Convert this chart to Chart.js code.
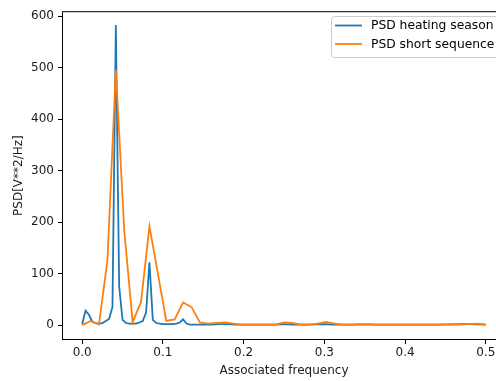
<!DOCTYPE html>
<html>
<head>
<meta charset="utf-8">
<script src="https://cdn.jsdelivr.net/npm/chart.js@4/dist/chart.umd.min.js"></script>
<style>
  html, body { margin: 0; padding: 0; background: #fff; overflow: hidden; }
  #wrap { width: 510px; height: 381px; }
</style>
</head>
<body>
<div id="wrap"><canvas id="psdCanvas" width="510" height="381"></canvas></div>
<script>
  // frequencies / PSD values
  var freqHeating = [0, 0.0042, 0.0083, 0.0125, 0.0167, 0.0208, 0.025, 0.0292, 0.0333, 0.0375,
    0.0417, 0.0458, 0.05, 0.0542, 0.0583, 0.0625, 0.0667, 0.0708, 0.075, 0.0792,
    0.0833, 0.0875, 0.0917, 0.0958, 0.1, 0.1042, 0.1083, 0.1125, 0.1167, 0.1208,
    0.125, 0.1292, 0.1333, 0.14, 0.15, 0.16, 0.17, 0.18, 0.19, 0.2,
    0.22, 0.24, 0.25, 0.26, 0.28, 0.3, 0.31, 0.33, 0.36, 0.4,
    0.44, 0.47, 0.48, 0.5];
  var psdHeating = [2, 28, 20, 7, 4, 3, 4, 8, 12, 35,
    583, 75, 10, 4, 3, 3, 3, 5, 8, 25,
    122, 10, 4, 3, 2, 2, 2, 2, 3, 5,
    11, 3, 1, 1, 1, 1, 2, 2, 1, 1,
    1, 1, 2, 1, 1, 2, 1, 1, 1, 1,
    1, 2, 2, 1];

  var freqShort = [0, 0.0104, 0.0208, 0.0313, 0.0417, 0.0521, 0.0625, 0.0729, 0.0833, 0.0938,
    0.1042, 0.1146, 0.125, 0.1354, 0.1458, 0.1563, 0.1667, 0.1771, 0.1875, 0.1979,
    0.2083, 0.2188, 0.2292, 0.2396, 0.25, 0.2604, 0.2708, 0.2813, 0.2917, 0.3021,
    0.3125, 0.3229, 0.3333, 0.3438, 0.3542, 0.3646, 0.375, 0.3854, 0.3958, 0.4063,
    0.4167, 0.4271, 0.4375, 0.4479, 0.4583, 0.4688, 0.4792, 0.4896, 0.5];
  var psdShort = [0, 8, 1, 126, 496, 184, 6, 45, 192, 100,
    8, 11, 44, 35, 5, 3, 4, 5, 3, 1,
    1, 1, 1, 1, 5, 4, 1, 1, 3, 6,
    3, 1, 1, 2, 2, 1, 1, 1, 1, 1,
    1, 1, 1, 1, 1, 1, 2, 3, 1];

  var seriesLabels = ["PSD heating season", "PSD short sequence"];
  var xTicks = [0, 0.1, 0.2, 0.3, 0.4, 0.5];
  var yTicks = [0, 100, 200, 300, 400, 500, 600];

  function pts(xs, ys) {
    var out = [];
    for (var i = 0; i < xs.length; i++) out.push({x: xs[i], y: ys[i]});
    return out;
  }

  var font = "'DejaVu Sans', sans-serif";

  // frame around plot area + legend box like matplotlib
  var framePlugin = {
    id: 'frame',
    afterDraw: function (chart) {
      var c = chart.ctx, a = chart.chartArea;
      c.save();
      c.strokeStyle = '#000';
      c.lineWidth = 1;
      c.strokeRect(a.left + 0.5, a.top + 0.5, a.right - a.left - 1, a.bottom - a.top - 1);

      // legend
      var bx = 331, by = 16, bw = 170, bh = 41;
      c.fillStyle = 'rgba(255,255,255,0.8)';
      c.strokeStyle = '#cccccc';
      c.beginPath();
      c.roundRect(bx + 0.5, by + 0.5, bw, bh, 3);
      c.fill();
      c.stroke();
      c.font = '12.3px ' + font;
      c.textBaseline = 'middle';
      chart.data.datasets.forEach(function (ds, i) {
        var ly = 25.5 + i * 18.5;
        c.strokeStyle = ds.borderColor;
        c.lineWidth = 1.8;
        c.beginPath();
        c.moveTo(335, ly);
        c.lineTo(362, ly);
        c.stroke();
        c.fillStyle = '#000';
        c.fillText(ds.label, 371, ly + 0.5);
      });
      c.restore();
    }
  };

  var ctx = document.getElementById('psdCanvas').getContext('2d');
  var chart = new Chart(ctx, {
    type: 'line',
    data: {
      datasets: [{
        label: seriesLabels[0],
        data: pts(freqHeating, psdHeating),
        borderColor: '#1f77b4',
        borderWidth: 1.8,
        pointRadius: 0,
        tension: 0,
        order: 1
      }, {
        label: seriesLabels[1],
        data: pts(freqShort, psdShort),
        borderColor: '#ff7f0e',
        borderWidth: 1.8,
        pointRadius: 0,
        tension: 0,
        order: 0
      }]
    },
    options: {
      responsive: false,
      animation: false,
      events: [],
      layout: {padding: {top: 10, right: 4, left: 0, bottom: 0}},
      plugins: {legend: {display: false}, tooltip: {enabled: false}},
      scales: {
        x: {
          type: 'linear',
          min: -0.025,
          max: 0.525,
          afterBuildTicks: function (s) { s.ticks = xTicks.map(function (v) { return {value: v}; }); },
          afterFit: function (s) { s.height = 41; },
          grid: {drawOnChartArea: false, drawTicks: true, tickLength: 4, tickColor: '#000'},
          border: {display: false},
          ticks: {
            color: '#1a1a1a', font: {family: font, size: 12}, padding: 2, maxRotation: 0,
            callback: function (v) { return v.toFixed(1); }
          },
          title: {display: true, text: 'Associated frequency', color: '#1a1a1a',
            font: {family: font, size: 12}, padding: {top: 0, bottom: 3}}
        },
        y: {
          min: -29,
          max: 610,
          afterBuildTicks: function (s) { s.ticks = yTicks.map(function (v) { return {value: v}; }); },
          afterFit: function (s) { s.width = 62; },
          grid: {drawOnChartArea: false, drawTicks: true, tickLength: 4, tickColor: '#000'},
          border: {display: false},
          ticks: {color: '#1a1a1a', font: {family: font, size: 12}, padding: 4},
          title: {display: true, text: 'PSD[V**2/Hz]', color: '#1a1a1a',
            font: {family: font, size: 12}, padding: {top: 12, bottom: 0}}
        }
      }
    },
    plugins: [framePlugin]
  });
</script>
</body>
</html>
